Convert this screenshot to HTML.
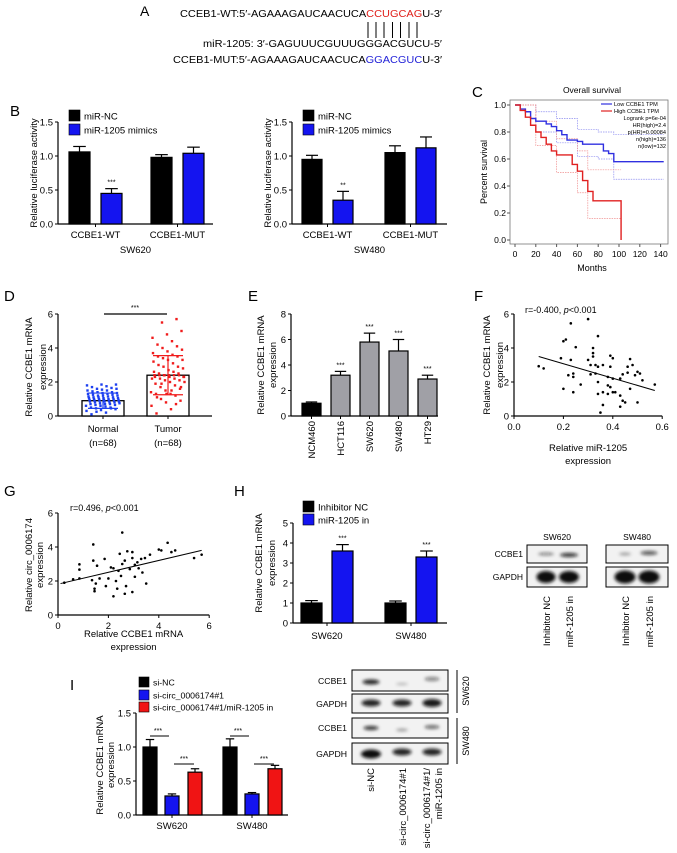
<!DOCTYPE html>
<html><head><meta charset="utf-8"><style>
html,body{margin:0;padding:0;background:#fff}
svg{display:block;font-family:"Liberation Sans",Arial,sans-serif}
</style></head><body>
<svg id="fig" width="677" height="853" viewBox="0 0 677 853" xmlns="http://www.w3.org/2000/svg">
<defs><filter id="blur" x="-50%" y="-100%" width="200%" height="300%"><feGaussianBlur stdDeviation="1.6"/></filter></defs>
<g font-size="10.5">
<text x="140" y="16" font-size="14">A</text>
<text x="180" y="17" textLength="262" lengthAdjust="spacingAndGlyphs">CCEB1-WT:5′-AGAAAGAUCAACUCA<tspan fill="#e0201b">CCUGCAG</tspan>U-3′</text>
<g stroke="#000" stroke-width="1">
<line x1="368" y1="22" x2="368" y2="38"/><line x1="376" y1="22" x2="376" y2="38"/><line x1="384" y1="22" x2="384" y2="38"/><line x1="392.5" y1="22" x2="392.5" y2="38"/><line x1="400.5" y1="22" x2="400.5" y2="38"/><line x1="409" y1="22" x2="409" y2="38"/><line x1="417" y1="22" x2="417" y2="38"/></g>
<text x="203" y="47" textLength="239" lengthAdjust="spacingAndGlyphs">miR-1205: 3′-GAGUUUCGUUUGGGACGUCU-5′</text>
<text x="173" y="63" textLength="269" lengthAdjust="spacingAndGlyphs">CCEB1-MUT:5′-AGAAAGAUCAACUCA<tspan fill="#2323d8">GGACGUC</tspan>U-3′</text>
</g>
<g id="dyn"></g>
</svg>
<script>
// ---------- data ----------
const bCats=["CCBE1-WT","CCBE1-MUT"];
const b620NC=[1.06,0.98], b620NCerr=[0.08,0.04], b620Mim=[0.45,1.04], b620MimErr=[0.07,0.09];
const b480NC=[0.95,1.05], b480NCerr=[0.06,0.1], b480Mim=[0.35,1.12], b480MimErr=[0.13,0.16];
const kmBlueT=[0,5,10,15,20,30,35,40,45,50,60,65,80,85,90,95,143];
const kmBlueS=[1,0.97,0.95,0.9,0.88,0.86,0.84,0.81,0.78,0.74,0.73,0.71,0.71,0.66,0.64,0.58,0.58];
const kmRedT=[0,5,10,15,20,25,30,35,40,50,55,60,65,70,75,102];
const kmRedS=[1,0.96,0.91,0.85,0.8,0.76,0.71,0.66,0.63,0.63,0.56,0.51,0.44,0.36,0.29,0.29];
const ciBlueT=[0,20,40,60,80,95,143], ciBlueHi=[1,0.95,0.9,0.82,0.8,0.78,0.78], ciBlueLo=[1,0.8,0.72,0.62,0.6,0.45,0.45];
const ciRedT=[0,20,40,60,70,102], ciRedHi=[1,0.88,0.75,0.66,0.52,0.52], ciRedLo=[1,0.7,0.5,0.35,0.16,0.16];
const dNormal=[0.1,0.2,0.3,0.35,0.4,0.45,0.5,0.5,0.55,0.6,0.6,0.65,0.65,0.7,0.7,0.7,0.75,0.75,0.8,0.8,0.8,0.85,0.85,0.85,0.9,0.9,0.9,0.9,0.95,0.95,0.95,1.0,1.0,1.0,1.0,1.05,1.05,1.05,1.1,1.1,1.1,1.15,1.15,1.2,1.2,1.2,1.25,1.25,1.3,1.3,1.35,1.35,1.4,1.4,1.45,1.5,1.5,1.55,1.6,1.6,1.65,1.7,1.75,1.8,1.85,1.85,0.25,0.45];
const dTumor=[0.15,0.4,0.6,0.8,0.9,1.0,1.2,1.3,1.3,1.4,1.5,1.6,1.7,1.8,1.9,2.0,2.0,2.1,2.1,2.2,2.2,2.3,2.3,2.3,2.4,2.4,2.4,2.4,2.4,2.4,2.3,2.4,2.5,2.5,2.6,2.6,2.7,2.8,2.9,2.9,3.0,3.1,3.2,3.3,3.3,3.4,3.5,3.5,3.6,3.7,3.8,3.9,4.0,4.1,4.2,4.4,4.6,4.8,5.0,5.5,5.7,1.1,1.5,2.2,1.3,1.7,1.9,0.7];
const dBarMean=[0.9,2.4], dBarSd=[0.45,1.15];
const eCats=["NCM460","HCT116","SW620","SW480","HT29"];
const eVals=[1.0,3.2,5.8,5.1,2.9], eErr=[0.1,0.3,0.7,0.9,0.3];
const fX=[.10,.12,.23,.21,.20,.25,.30,.30,.19,.23,.22,.24,.24,.27,.20,.24,.34,.32,.32,.32,.33,.34,.36,.31,.33,.31,.34,.39,.40,.39,.38,.40,.38,.39,.40,.36,.38,.41,.36,.35,.43,.43,.44,.43,.45,.46,.46,.47,.48,.49,.50,.51,.52,.47,.50,.57,.44,.34];
const fY=[2.93,2.8,5.45,4.5,4.4,4.05,5.7,3.3,3.4,3.3,2.4,2.5,2.3,1.85,1.6,1.4,4.7,4.0,3.7,3.5,3.0,2.9,3.0,3.0,2.5,2.45,2.0,3.55,3.4,2.9,2.3,2.2,1.8,1.7,1.4,1.4,1.3,1.4,0.65,0.2,1.2,2.2,0.9,0.55,0.8,2.9,2.55,3.35,3.0,2.4,2.6,2.5,2.1,1.6,0.8,1.85,2.45,1.3];
const fFit=[3.5,1.5];
const gX=[.25,.6,.85,.85,.85,1.35,1.4,1.4,1.45,1.45,1.5,1.55,1.65,1.85,1.9,2.0,2.1,2.2,2.2,2.3,2.35,2.4,2.45,2.5,2.55,2.55,2.65,2.7,2.75,2.85,2.95,2.95,2.95,3.05,3.05,3.15,3.2,3.3,3.35,3.45,3.5,3.65,4.0,4.1,4.35,4.5,4.65,5.4,5.7,2.65];
const gY=[1.9,2.1,2.15,2.98,2.67,2.05,4.15,3.2,1.55,1.4,1.85,2.9,2.15,3.3,1.7,2.15,2.8,2.75,1.1,2.0,1.55,2.6,3.6,2.3,4.85,3.0,1.25,1.7,3.75,2.7,3.35,3.7,1.35,2.95,2.25,3.1,2.75,3.3,2.5,3.35,1.85,3.55,3.85,3.8,4.25,3.7,3.8,3.35,3.55,3.2];
const gFit=[1.85,3.8];
const hCats=["SW620","SW480"];
const hNC=[1.0,1.0], hNCerr=[0.12,0.1], hIn=[3.6,3.3], hInErr=[0.32,0.3];
const iCats=["SW620","SW480"];
const iNC=[1.0,1.0], iNCerr=[0.11,0.12], iSi=[0.28,0.31], iSiErr=[0.03,0.02], iRes=[0.63,0.68], iResErr=[0.05,0.05];

// ---------- helpers ----------
const NS="http://www.w3.org/2000/svg";
const root=document.getElementById('dyn');
function mk(tag,a,p){const e=document.createElementNS(NS,tag);for(const k in a)e.setAttribute(k,a[k]);(p||root).appendChild(e);return e;}
function txt(x,y,s,a,p){const t=mk('text',Object.assign({x:x,y:y,'font-size':9},a||{}),p);t.textContent=s;return t;}
function yAxis(p,x,y0,k,ticks,labels){
  const ax=mk('line',{x1:x,y1:y0,x2:x,y2:y0-k*ticks[ticks.length-1],stroke:'#000','stroke-width':1.2},p);
  
  
  ticks.forEach((v,i)=>{const y=y0-k*v;
    mk('line',{x1:x-3,y1:y,x2:x,y2:y,stroke:'#000'},p);
    const t=txt(x-5,y+3.5,labels[i],{'text-anchor':'end','font-size':9.5},p);
    
    });
}
function xAxis(p,x1,x2,y){const a=mk('line',{x1:x1,y1:y,x2:x2,y2:y,stroke:'#000','stroke-width':1.2},p);
  
  }
function yTitle(p,xs,y,lines){lines.forEach((s,i)=>{const t=txt(0,0,s,{'text-anchor':'middle','font-size':9.5,transform:`translate(${xs[i]+4},${y}) rotate(-90)`},p);
  
  });}
function bar(p,x,w,y0,k,v,err,fill,name){
  const r=mk('rect',{x:x,y:y0-k*v,width:w,height:k*v,fill:fill,stroke:'#000','stroke-width':1.2},p);
  
  
  const yt=y0-k*(v+err),cx=x+w/2;
  mk('line',{x1:cx,y1:y0-k*v,x2:cx,y2:yt,stroke:'#000','stroke-width':1.2},p);
  mk('line',{x1:cx-w*0.3,y1:yt,x2:cx+w*0.3,y2:yt,stroke:'#000','stroke-width':1.2},p);
}
function legend(p,x,y,col,s,sz,fs){const r=mk('rect',{x:x,y:y,width:sz,height:sz,fill:col,stroke:'#000','stroke-width':0.6},p);
  
  
  const t=txt(x+sz+4,y+sz-1.5,s,{'font-size':fs||9.5},p);
  
  }
function label(x,y,s){const t=txt(x,y,s,{'font-size':15});
  
  }

// ---------- Panel B ----------
function panelB(ax,gx,off,w,xend,nc,ncE,mi,miE,cell,legX){
  const g=mk('g',{});
  
  
  const y0=224,k=68;
  yAxis(g,ax,y0,k,[0,0.5,1,1.5],["0.0","0.5","1.0","1.5"]);
  xAxis(g,ax,xend,y0);
  bCats.forEach((c,i)=>{bar(g,gx[i],w,y0,k,nc[i],ncE[i],'#000','bar-mir-nc');
    bar(g,gx[i]+off,w,y0,k,mi[i],miE[i],'#1414f0','bar-mir-1205-mimics');
    const cx=gx[i]+(off+w)/2;
    mk('line',{x1:cx,y1:y0,x2:cx,y2:y0+3,stroke:'#000'},g);
    const t=txt(cx,y0+14,c,{'text-anchor':'middle','font-size':9.5},g);
    
    });
  const sig=[cell==="SW620"?"***":"**"];
  txt(gx[0]+off+w/2,y0-k*(mi[0]+miE[0])-4,sig[0],{'text-anchor':'middle','font-size':7},g);
  const t=txt((ax+xend)/2,y0+29,cell,{'text-anchor':'middle','font-size':9.5},g);
  
  
  yTitle(g,[ax-25],173,["Relative luciferase activity"]);
  legend(g,legX,110,'#000','miR-NC',11);
  legend(g,legX,124,'#1414f0','miR-1205 mimics',11);
}
label(10,116,'B');
panelB(58,[69,151],32,21,213,b620NC,b620NCerr,b620Mim,b620MimErr,"SW620",69);
panelB(292,[302,385],31,20,447,b480NC,b480NCerr,b480Mim,b480MimErr,"SW480",303);

// ---------- Panel C ----------
(function(){
  const g=mk('g',{});
  
  
  label(472,97,'C');
  const X=t=>515+t*1.04, Y=s=>240-s*135;
  mk('rect',{x:510,y:100,width:158,height:144,fill:'none',stroke:'#777','stroke-width':0.8},g);
  txt(592,93,'Overall survival',{'text-anchor':'middle','font-size':8.5},g);
  [0,20,40,60,80,100,120,140].forEach(v=>{mk('line',{x1:X(v),y1:244,x2:X(v),y2:247,stroke:'#555'},g);
    txt(X(v),257,String(v),{'text-anchor':'middle','font-size':8.5},g);});
  [0,0.2,0.4,0.6,0.8,1.0].forEach(v=>{mk('line',{x1:507,y1:Y(v),x2:510,y2:Y(v),stroke:'#555'},g);
    txt(506,Y(v)+3,v.toFixed(1),{'text-anchor':'end','font-size':8.5},g);});
  txt(592,271,'Months',{'text-anchor':'middle','font-size':9},g);
  txt(0,0,'Percent survival',{'text-anchor':'middle','font-size':9,transform:'translate(487,172) rotate(-90)'},g);
  function step(T,S){let d=`M${X(T[0])},${Y(S[0])}`;for(let i=1;i<T.length;i++){d+=`H${X(T[i])}V${Y(S[i])}`;}return d;}
  const c1=mk('path',{d:step(ciBlueT,ciBlueHi),fill:'none',stroke:'#8c8cf0','stroke-width':0.7,'stroke-dasharray':'1.5,1'},g);
  
  
  const c2=mk('path',{d:step(ciBlueT,ciBlueLo),fill:'none',stroke:'#8c8cf0','stroke-width':0.7,'stroke-dasharray':'1.5,1'},g);
  
  
  const c3=mk('path',{d:step(ciRedT,ciRedHi),fill:'none',stroke:'#f09090','stroke-width':0.7,'stroke-dasharray':'1.5,1'},g);
  
  
  const c4=mk('path',{d:step(ciRedT,ciRedLo),fill:'none',stroke:'#f09090','stroke-width':0.7,'stroke-dasharray':'1.5,1'},g);
  
  
  const b=mk('path',{d:step(kmBlueT,kmBlueS),fill:'none',stroke:'#3030e0','stroke-width':1.4},g);
  
  
  const r=mk('path',{d:step(kmRedT,kmRedS)+`V${Y(0)}`,fill:'none',stroke:'#e02020','stroke-width':1.4},g);
  
  
  mk('line',{x1:601,y1:104,x2:612,y2:104,stroke:'#3030e0','stroke-width':1.2},g);
  mk('line',{x1:601,y1:111,x2:612,y2:111,stroke:'#e02020','stroke-width':1.2},g);
  const L=[['Low CCBE1 TPM',106,614,'start'],['High CCBE1 TPM',113,614,'start'],['Logrank p=6e-04',120,666,'end'],['HR(high)=2.4',127,666,'end'],['p(HR)=0.00084',134,666,'end'],['n(high)=136',141,666,'end'],['n(low)=132',148,666,'end']];
  L.forEach(l=>{const t=txt(l[2],l[1],l[0],{'font-size':5.6,'text-anchor':l[3]},g);
    
    });
})();

// ---------- Panel D ----------
(function(){
  const g=mk('g',{});
  
  
  label(4,301,'D');
  const y0=416,k=17;
  yAxis(g,58,y0,k,[0,2,4,6],["0","2","4","6"]);
  xAxis(g,58,212,y0);
  yTitle(g,[28,42],367,["Relative CCBE1 mRNA","expression"]);
  [[dNormal,82,'#1c3ff0','Normal'],[dTumor,147,'#f01c1c','Tumor']].forEach(([arr,x,col,nm],gi)=>{
    const m=dBarMean[gi],s=dBarSd[gi];
    const r=mk('rect',{x:x,y:y0-k*m,width:42,height:k*m,fill:'#fff',stroke:'#000','stroke-width':1.3},g);
    
    
    arr.forEach((v,i)=>{const jx=x+4+((i*29+11)%68)/68*34;
      const p=mk('rect',{x:jx-1.2,y:y0-k*v-1.2,width:2.4,height:2.4,fill:col},g);
      
      });
    const cx=x+21;
    mk('line',{x1:cx,y1:y0-k*(m-s),x2:cx,y2:y0-k*(m+s),stroke:col,'stroke-width':1.2},g);
    mk('line',{x1:cx-15,y1:y0-k*(m+s),x2:cx+15,y2:y0-k*(m+s),stroke:col,'stroke-width':1.2},g);
    mk('line',{x1:cx-15,y1:y0-k*(m-s),x2:cx+15,y2:y0-k*(m-s),stroke:col,'stroke-width':1.2},g);
    mk('line',{x1:cx,y1:y0,x2:cx,y2:y0+3,stroke:'#000'},g);
    txt(cx,y0+16,nm,{'text-anchor':'middle','font-size':9.5},g);
    txt(cx,y0+30,'(n=68)',{'text-anchor':'middle','font-size':9.5},g);
  });
  mk('line',{x1:104,y1:314,x2:167,y2:314,stroke:'#000','stroke-width':1.2},g);
  txt(135,310,'***',{'text-anchor':'middle','font-size':7},g);
})();

// ---------- Panel E ----------
(function(){
  const g=mk('g',{});
  
  
  label(248,301,'E');
  const y0=416,k=12.75;
  yAxis(g,291,y0,k,[0,2,4,6,8],["0","2","4","6","8"]);
  xAxis(g,291,438,y0);
  yTitle(g,[260,272],365,["Relative CCBE1 mRNA","expression"]);
  eCats.forEach((c,i)=>{const x=302+i*29;
    bar(g,x,19,y0,k,eVals[i],eErr[i],i===0?'#000':'#a0a0a6','bar-'+c.toLowerCase());
    if(i>0)txt(x+9.5,y0-k*(eVals[i]+eErr[i])-4,'***',{'text-anchor':'middle','font-size':7},g);
    mk('line',{x1:x+9.5,y1:y0,x2:x+9.5,y2:y0+3,stroke:'#000'},g);
    const t=txt(0,0,c,{'text-anchor':'end','font-size':9.5,transform:`translate(${x+13},${y0+5}) rotate(-90)`},g);
    
    });
})();

// ---------- scatter helper ----------
function scatter(name,ax,y0,kx,ky,xs,ys,fit,xr,xt,xl,yt,title,titleX,titleY,xtitle,xtY,ytxs,yty,ylines){
  const g=mk('g',{});
  
  
  yAxis(g,ax,y0,ky,yt,yt.map(String));
  const xa=mk('line',{x1:ax,y1:y0,x2:ax+kx*xt[xt.length-1],y2:y0,stroke:'#000','stroke-width':1.2},g);
  
  
  xt.forEach((v,i)=>{mk('line',{x1:ax+kx*v,y1:y0,x2:ax+kx*v,y2:y0+3,stroke:'#000'},g);
    txt(ax+kx*v,y0+14,xl[i],{'text-anchor':'middle','font-size':9.5},g);});
  xs.forEach((v,i)=>{const c=mk('circle',{cx:ax+kx*v,cy:y0-ky*ys[i],r:1.3,fill:'#000'},g);
    
    });
  const l=mk('line',{x1:ax+kx*xr[0],y1:y0-ky*fit[0],x2:ax+kx*xr[1],y2:y0-ky*fit[1],stroke:'#000','stroke-width':1},g);
  
  
  const t=mk('text',{x:titleX,y:titleY,'font-size':9},g);
  t.innerHTML=title;
  
  
  xtitle.forEach((s,i)=>txt(ax+kx*xt[xt.length-1]/2,xtY+i*13,s,{'text-anchor':'middle','font-size':9.5},g));
  yTitle(g,ytxs,yty,ylines);
}
label(474,301,'F');
scatter('mirna-correlation-chart',514,416,247,17,fX,fY,fFit,[0.1,0.57],[0,0.2,0.4,0.6],["0.0","0.2","0.4","0.6"],[0,2,4,6],'r=-0.400, <tspan font-style="italic">p</tspan>&lt;0.001',525,313,["Relative miR-1205","expression"],451,[486,499],365,["Relative CCBE1 mRNA","expression"]);
label(4,496,'G');
scatter('circrna-correlation-chart',58,615,25.2,17,gX,gY,gFit,[0.1,5.7],[0,2,4,6],["0","2","4","6"],[0,2,4,6],'r=0.496, <tspan font-style="italic">p</tspan>&lt;0.001',70,511,["Relative CCBE1 mRNA","expression"],637,[28,39],565,["Relative circ_0006174","expression"]);

// ---------- Panel H ----------
(function(){
  const g=mk('g',{});
  
  
  label(234,496,'H');
  const y0=623,k=20;
  yAxis(g,293,y0,k,[0,1,2,3,4,5],["0","1","2","3","4","5"]);
  xAxis(g,293,447,y0);
  yTitle(g,[258,271],563,["Relative CCBE1 mRNA","expression"]);
  const gx=[301,385];
  hCats.forEach((c,i)=>{bar(g,gx[i],21,y0,k,hNC[i],hNCerr[i],'#000','bar-inhibitor-nc');
    bar(g,gx[i]+31,21,y0,k,hIn[i],hInErr[i],'#1414f0','bar-mir-1205-in');
    txt(gx[i]+41.5,y0-k*(hIn[i]+hInErr[i])-4,'***',{'text-anchor':'middle','font-size':7},g);
    mk('line',{x1:gx[i]+26,y1:y0,x2:gx[i]+26,y2:y0+3,stroke:'#000'},g);
    txt(gx[i]+26,y0+16,c,{'text-anchor':'middle','font-size':9.5},g);});
  legend(g,303,501,'#000','Inhibitor NC',11);
  legend(g,303,514,'#1414f0','miR-1205 in',11);
})();

// ---------- Western blots ----------
function band(p,cx,cy,w,h,op){const e=mk('ellipse',{cx:cx,cy:cy,rx:w/2,ry:h/2,fill:'#111','fill-opacity':op,filter:'url(#blur)'},p);
  
  }
function blotBox(p,x,y,w,h,name){const r=mk('rect',{x:x,y:y,width:w,height:h,fill:'#f2f2f2',stroke:'#000','stroke-width':1},p);
  
  }
(function(){
  const g=mk('g',{});
  
  
  txt(557,540,'SW620',{'text-anchor':'middle','font-size':8.5},g);
  txt(637,540,'SW480',{'text-anchor':'middle','font-size':8.5},g);
  txt(523,557,'CCBE1',{'text-anchor':'end','font-size':8.5},g);
  txt(523,580,'GAPDH',{'text-anchor':'end','font-size':8.5},g);
  blotBox(g,527,545,60,18,'ccbe1-blot-sw620');blotBox(g,527,567,60,20,'gapdh-blot-sw620');
  blotBox(g,606,545,62,18,'ccbe1-blot-sw480');blotBox(g,606,567,62,20,'gapdh-blot-sw480');
  band(g,546,554,16,3,0.5);band(g,569,555,18,4,0.85);
  band(g,625,554,12,3,0.35);band(g,649,553,17,4,0.7);
  band(g,546,577,19,12,1);band(g,569,577,20,12,1);
  band(g,625,577,21,13,1);band(g,649,577,21,13,1);
  [[550,'Inhibitor NC'],[573,'miR-1205 in'],[629,'Inhibitor NC'],[653,'miR-1205 in']].forEach(l=>{
    const t=txt(0,0,l[1],{'text-anchor':'end','font-size':9.5,transform:`translate(${l[0]},596) rotate(-90)`},g);
    
    });
})();

// ---------- Panel I ----------
(function(){
  const g=mk('g',{});
  
  
  label(70,690,'I');
  const y0=815,k=68;
  yAxis(g,136,y0,k,[0,0.5,1,1.5],["0.0","0.5","1.0","1.5"]);
  xAxis(g,136,288,y0);
  yTitle(g,[99,110],765,["Relative CCBE1 mRNA","expression"]);
  const gx=[143,223];
  iCats.forEach((c,i)=>{const x=gx[i];
    bar(g,x,14,y0,k,iNC[i],iNCerr[i],'#000','bar-si-nc');
    bar(g,x+22,14,y0,k,iSi[i],iSiErr[i],'#1414f0','bar-si-circ');
    bar(g,x+45,14,y0,k,iRes[i],iResErr[i],'#f01414','bar-si-circ-mir-1205-in');
    mk('line',{x1:x+7,y1:736,x2:x+26,y2:736,stroke:'#000','stroke-width':1},g);
    txt(x+15,733,'***',{'text-anchor':'middle','font-size':7},g);
    mk('line',{x1:x+31,y1:764,x2:x+51,y2:764,stroke:'#000','stroke-width':1},g);
    txt(x+41,761,'***',{'text-anchor':'middle','font-size':7},g);
    mk('line',{x1:x+29,y1:y0,x2:x+29,y2:y0+3,stroke:'#000'},g);
    txt(x+29,y0+14,c,{'text-anchor':'middle','font-size':9.5},g);});
  legend(g,139,677,'#000','si-NC',10,8.7);
  legend(g,139,690,'#1414f0','si-circ_0006174#1',10,8.7);
  legend(g,139,702,'#f01414','si-circ_0006174#1/miR-1205 in',10,8.7);
})();
(function(){
  const g=mk('g',{});
  
  
  txt(347,684,'CCBE1',{'text-anchor':'end','font-size':8.7},g);
  txt(347,707,'GAPDH',{'text-anchor':'end','font-size':8.7},g);
  txt(347,731,'CCBE1',{'text-anchor':'end','font-size':8.7},g);
  txt(347,757,'GAPDH',{'text-anchor':'end','font-size':8.7},g);
  blotBox(g,352,670,96,21,'ccbe1-blot-sw620');blotBox(g,352,694,96,19,'gapdh-blot-sw620');
  blotBox(g,352,718,96,20,'ccbe1-blot-sw480');blotBox(g,352,743,96,21,'gapdh-blot-sw480');
  const lx=[371,402,432];
  band(g,lx[0],682,17,5,0.9);band(g,lx[1],684,12,2.5,0.25);band(g,lx[2],679,15,4,0.5);
  band(g,lx[0],703,19,7,0.9);band(g,lx[1],703,19,7,0.9);band(g,lx[2],703,19,8,0.95);
  band(g,lx[0],728,15,4,0.85);band(g,lx[1],730,12,3,0.35);band(g,lx[2],727,15,3.5,0.65);
  band(g,lx[0],754,20,9,1);band(g,lx[1],752,19,7,0.9);band(g,lx[2],752,19,7,0.9);
  mk('line',{x1:457,y1:670,x2:457,y2:713,stroke:'#000'},g);
  mk('line',{x1:457,y1:718,x2:457,y2:764,stroke:'#000'},g);
  txt(0,0,'SW620',{'text-anchor':'middle','font-size':9,transform:'translate(469,691) rotate(-90)'},g);
  txt(0,0,'SW480',{'text-anchor':'middle','font-size':9,transform:'translate(469,741) rotate(-90)'},g);
  [[374,'si-NC'],[406,'si-circ_0006174#1'],[430,'si-circ_0006174#1/'],[442,'miR-1205 in']].forEach(l=>{
    const t=txt(0,0,l[1],{'text-anchor':'end','font-size':9.5,transform:`translate(${l[0]},768) rotate(-90)`},g);
    
    });
})();
</script>
</body></html>
